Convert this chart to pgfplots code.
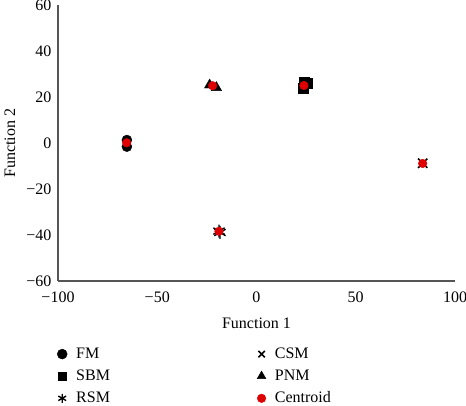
\documentclass[border=0pt]{standalone}
\usepackage{pgfplots}
\pgfplotsset{compat=1.18}
\usepackage{fontspec}
\setmainfont{Liberation Serif}
\definecolor{cred}{RGB}{222,0,0}
\definecolor{axgray}{RGB}{85,85,85}
\begin{document}
\fontsize{16}{18}\selectfont
\begin{tikzpicture}[x=1pt,y=1pt]
\path[use as bounding box] (-58,-124) rectangle (408,281);
\begin{axis}[
  at={(0,0)}, anchor=south west,
  scale only axis, width=397pt, height=276pt,
  xmin=-100, xmax=100, ymin=-60, ymax=60,
  axis lines=left, axis line style={-, axgray, line width=1.4pt},
  xtick={-100,-50,0,50,100}, ytick={-60,-40,-20,0,20,40,60},
  xticklabels={−100,−50,0,50,100},
  yticklabels={−60,−40,−20,0,20,40,60},
  major tick length=0pt,
  xticklabel style={yshift=-5pt},
  yticklabel style={xshift=-1pt},
  ticklabel style={font=\fontsize{16}{18}\selectfont},
  label style={font=\fontsize{16}{18}\selectfont},
  xlabel={Function 1}, ylabel={Function 2},
  xlabel style={yshift=-5pt},
  ylabel style={at={(axis description cs:-0.121,0.5)}, anchor=center},
  clip=false,
  legend columns=2,
  legend style={at={(axis description cs:-0.01,-0.226)}, anchor=north west,
    draw=none, fill=none, row sep=5pt,
    font=\fontsize{16}{18}\selectfont},
  legend cell align=left,
]
\addplot[only marks, mark=*, mark size=5pt, black] coordinates {(-65.3,1.3) (-65.3,-1.6)};
\addlegendentry{\hspace{7pt}\makebox[179pt][l]{FM}}
\addplot[only marks, mark=x, mark size=6.5pt, black, line width=1.6pt, legend image post style={mark size=4.5pt}] coordinates {(83.7,-8.8)};
\addlegendentry{\hspace{7pt}CSM}
\addplot[only marks, mark=square*, mark size=5pt, black, legend image post style={mark size=4pt}] coordinates {(23.5,23.8) (25.6,26.2) (23.8,26.4)};
\addlegendentry{\hspace{7pt}\makebox[179pt][l]{SBM}}
\addplot[only marks, mark=triangle*, mark size=6pt, black, legend image post style={mark size=5pt}] coordinates {(-23.6,25.2) (-20.2,24.1)};
\addlegendentry{\hspace{7pt}PNM}
\addplot[only marks, mark=asterisk, mark size=6.5pt, black, line width=1.4pt, legend image post style={mark size=4.5pt}] coordinates {(-18.9,-38.3) (-18.4,-38.9)};
\addlegendentry{\hspace{7pt}\makebox[179pt][l]{RSM}}
\addplot[only marks, mark=*, mark size=4.3pt, cred, draw=cred] coordinates {(-65.4,0.1) (-22.1,24.9) (23.9,25.0) (-18.9,-38.4) (83.7,-8.9)};
\addlegendentry{\hspace{7pt}Centroid}
\end{axis}
\end{tikzpicture}
\end{document}
